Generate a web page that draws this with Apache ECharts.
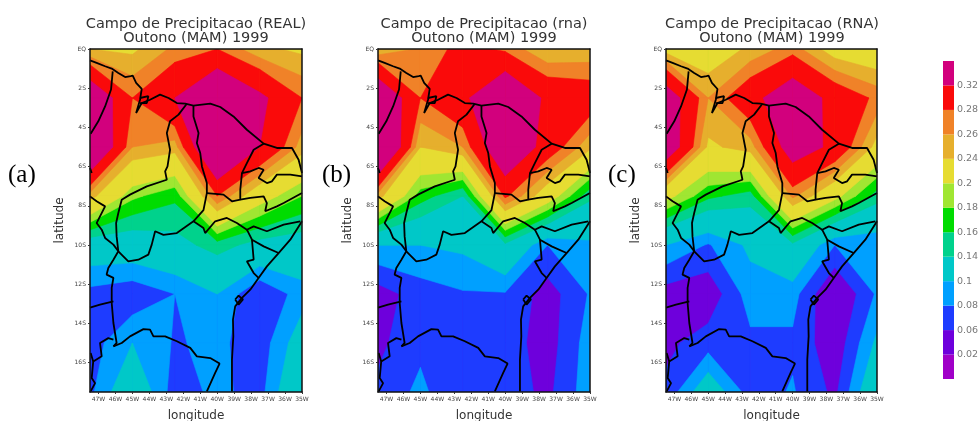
<!DOCTYPE html>
<html><head><meta charset="utf-8">
<style>html,body{margin:0;padding:0;background:#fff}#c{width:978px;height:421px}</style>
<script src="https://cdn.jsdelivr.net/npm/echarts@6/dist/echarts.min.js"></script>
</head><body><div id="c"></div>
<script>
// grid nodes of the precipitation field
const lons = [-47.5,-45,-42.5,-40,-37.5,-35];
const lats = [0,-2.5,-5,-7.5,-10,-12.5,-15,-17.5];
const fieldReal = [
 [.24,.235,.265,.28,.245,.235],
 [.365,.28,.32,.38,.33,.28],
 [.39,.26,.25,.40,.32,.25],
 [.25,.185,.165,.28,.215,.18],
 [.12,.12,.13,.15,.13,.125],
 [.073,.065,.08,.1,.06,.09],
 [.07,.1,.078,.085,.068,.115],
 [.075,.125,.07,.085,.072,.135]];
const fieldRnaLower = [
 [.245,.262,.29,.275,.24,.245],
 [.37,.28,.31,.373,.31,.30],
 [.41,.24,.26,.37,.30,.245],
 [.25,.17,.14,.285,.22,.145],
 [.10,.10,.105,.135,.08,.095],
 [.05,.07,.078,.078,.05,.082],
 [.055,.075,.068,.07,.05,.09],
 [.065,.085,.06,.07,.055,.092]];
const fieldRnaUpper = [
 [.23,.22,.245,.27,.225,.215],
 [.35,.26,.305,.354,.305,.274],
 [.36,.235,.25,.345,.31,.23],
 [.21,.165,.15,.265,.21,.15],
 [.10,.078,.105,.135,.08,.082],
 [.05,.045,.09,.088,.036,.083],
 [.055,.07,.075,.076,.045,.105],
 [.065,.12,.07,.082,.055,.13]];
// contour levels and colours
const levels = [.02,.06,.08,.1,.14,.16,.18,.2,.24,.26,.28,.32];
const barLabels = ['0.02','0.06','0.08','0.1','0.14','0.16','0.18','0.2','0.24','0.26','0.28','0.32'];
const bandColors = ['#a000c8','#6e00dc','#1e3cff','#00a0ff','#00c8c8','#00d28c','#00dc00','#a0e632','#e6dc32','#e6af2d','#f08228','#fa0a0a','#d2007d'];
// map outlines, lon/lat
const borders = [
 [[-47.5,-.58],[-47.11,-.71],[-46.61,-.88],[-46.22,-1.0],[-45.83,-1.22],[-45.43,-1.43],[-45.1,-1.38],[-44.98,-1.36],[-44.78,-1.73],[-44.45,-2.04],[-44.55,-2.59],[-44.78,-3.27],[-44.45,-2.76],[-43.96,-2.59],[-43.37,-2.33],[-42.87,-2.5],[-42.38,-2.76],[-41.89,-2.79],[-41.40,-2.89],[-40.41,-2.79],[-39.82,-2.96],[-39.04,-3.44],[-38.25,-4.12],[-37.26,-4.83],[-36.48,-5.05],[-35.59,-5.05],[-35.2,-5.65],[-35.0,-6.33]],
 [[-35,-8.79],[-35.69,-9.73],[-36.38,-10.41],[-37.07,-11.09],[-37.56,-11.68],[-38.05,-12.28],[-38.54,-12.70],[-38.94,-13.13],[-39.07,-13.81],[-39.05,-14.66],[-39.13,-15.85],[-39.13,-17.47]],
 [[-46.16,-1.14],[-46.26,-2.07],[-46.61,-2.93],[-47.01,-3.69],[-47.46,-4.32]],
 [[-41.79,-2.79],[-42.28,-3.35],[-42.78,-3.69],[-42.97,-4.29],[-42.78,-5.14],[-42.93,-5.99],[-43.07,-6.24],[-42.97,-6.67],[-44.15,-7.01],[-45.14,-7.43],[-45.63,-7.69],[-45.83,-8.37],[-45.96,-8.88],[-45.93,-9.56],[-45.83,-10.32]],
 [[-41.4,-2.89],[-41.4,-3.44],[-41.1,-4.29],[-41.2,-4.8],[-41.0,-5.31],[-40.9,-5.99],[-40.61,-6.84],[-40.61,-7.35],[-40.81,-8.22],[-41.4,-8.79]],
 [[-37.26,-4.83],[-37.85,-5.14],[-38.25,-5.82],[-38.54,-6.33],[-38.64,-7.18],[-38.64,-7.69],[-39.13,-7.77],[-39.63,-7.43],[-40.61,-7.35]],
 [[-38.54,-6.33],[-38.05,-6.24],[-37.56,-6.07],[-37.26,-6.16],[-37.56,-6.58],[-37.07,-6.84],[-36.77,-6.75],[-36.48,-6.41],[-35.69,-6.41],[-35,-6.5]],
 [[-38.64,-7.69],[-38.05,-7.6],[-37.26,-7.52],[-37.07,-7.86],[-37.17,-8.28],[-36.48,-8.03],[-36.08,-7.86],[-35,-7.35]],
 [[-47.5,-7.52],[-47.11,-7.77],[-46.61,-8.03],[-46.91,-8.54],[-47.11,-8.88],[-46.81,-9.22],[-46.61,-9.64],[-46.12,-9.98],[-45.83,-10.32],[-46.12,-10.75],[-46.42,-11.17],[-46.52,-11.51],[-46.12,-11.68],[-46.22,-12.19],[-46.22,-12.96],[-46.12,-13.98],[-45.93,-15.0],[-46.12,-15.17]],
 [[-45.83,-10.32],[-45.24,-10.83],[-44.65,-10.75],[-44.06,-10.49],[-43.86,-9.98],[-43.66,-9.30],[-43.17,-9.48],[-42.38,-9.39],[-41.4,-8.79],[-40.81,-9.13],[-40.71,-9.39],[-40.12,-8.79],[-39.43,-8.62],[-38.84,-8.88],[-38.25,-9.22],[-37.85,-9.05],[-37.07,-9.30],[-36.08,-8.96],[-35.1,-8.79]],
 [[-38.25,-9.22],[-37.95,-9.73],[-37.26,-10.07],[-36.38,-10.41]],
 [[-37.95,-9.73],[-37.85,-10.75],[-38.25,-10.83],[-37.85,-11.43],[-37.56,-11.68]],
 [[-47.5,-13.2],[-46.91,-13.04],[-46.12,-12.87]],
 [[-46.12,-15.17],[-45.63,-15.0],[-45.14,-14.66],[-44.35,-14.29],[-43.96,-14.32],[-43.76,-14.66],[-43.07,-14.66],[-42.38,-14.91],[-41.59,-15.25],[-41.2,-15.68],[-40.41,-15.77],[-39.86,-16.05],[-40.12,-16.53],[-40.61,-17.47]],
 [[-46.12,-14.83],[-46.42,-14.75],[-46.91,-15.0],[-46.81,-15.68],[-47.31,-15.94],[-47.46,-15.51]],
 [[-47.31,-15.94],[-47.4,-16.79],[-47.2,-17.05],[-47.46,-17.47]],
 [[-38.94,-12.78],[-38.74,-12.58],[-38.48,-12.78],[-38.74,-13.04],[-38.94,-12.78]],
 [[-44.55,-2.5],[-44.06,-2.41],[-44.15,-2.76],[-44.55,-2.76]],
 [[-47.5,-6.07],[-47.4,-6.33]]
];
const lonTicks = [-47,-46,-45,-44,-43,-42,-41,-40,-39,-38,-37,-36,-35];
const latTicks = [0,-2,-4,-6,-8,-10,-12,-14,-16];
const titles = ['Campo de Precipitacao (REAL)\nOutono (MAM) 1999','Campo de Precipitacao (rna)\nOutono (MAM) 1999','Campo de Precipitacao (RNA)\nOutono (MAM) 1999'];
const tags = ['(a)','(b)','(c)'];
const fields = [fieldReal, fieldRnaLower, fieldRnaUpper];
const panelLeft = [90,378,666], panelWidth = [212,212,211], titleX = [196,484,772], tagX = [8,322,608];

function clipAbove(poly, L){
  const out = [];
  for (let i=0;i<poly.length;i++){
    const a = poly[i], b = poly[(i+1)%poly.length];
    const ia = a[2]>=L, ib = b[2]>=L;
    if (ia) out.push(a);
    if (ia!==ib){
      const t = (L-a[2])/(b[2]-a[2]);
      out.push([a[0]+(b[0]-a[0])*t, a[1]+(b[1]-a[1])*t, L]);
    }
  }
  return out;
}
// one data item per colour band, lowest first, so higher bands paint over lower ones
function contourRender(field){
  return function(params, api){
    const k = api.value(2);
    const c = bandColors[k+1];
    const children = [];
    for (let j=0;j<lats.length-1;j++) for (let i=0;i<lons.length-1;i++){
      const quad = [[lons[i],lats[j],field[j][i]],[lons[i+1],lats[j],field[j][i+1]],
                    [lons[i+1],lats[j+1],field[j+1][i+1]],[lons[i],lats[j+1],field[j+1][i]]];
      const p = k<0 ? quad : clipAbove(quad, levels[k]);
      if (p.length<3) continue;
      children.push({type:'polygon',shape:{points:p.map(q=>api.coord([q[0],q[1]]))},
        style:{fill:c,stroke:c,lineWidth:.6},silent:true});
    }
    return {type:'group',children};
  };
}
const bandItems = bandColors.map((c,n)=>[lons[0],lats[0],n-1]);

const grid=[],xAxis=[],yAxis=[],series=[],title=[];
const frame={show:true,onZero:false,lineStyle:{color:'#111',width:1.5}};
fields.forEach((field,p)=>{
  grid.push({left:panelLeft[p],top:49,width:panelWidth[p],height:343,outerBoundsMode:'none'});
  const lx={type:'value',gridIndex:p,min:-47.5,max:-35,z:10,splitLine:{show:false}};
  const ly={type:'value',gridIndex:p,min:-17.5,max:0,z:10,splitLine:{show:false}};
  xAxis.push(Object.assign({},lx,{position:'bottom',axisLine:frame,name:'longitude',nameLocation:'middle',nameGap:18,
    nameTextStyle:{fontFamily:'DejaVu Sans',fontSize:12,color:'#333'},
    axisTick:{show:true,length:2,customValues:lonTicks,lineStyle:{color:'#333'}},
    axisLabel:{customValues:lonTicks,margin:4,fontFamily:'DejaVu Sans',fontSize:6,color:'#444',hideOverlap:false,formatter:v=>Math.abs(v)+'W'}}));
  xAxis.push(Object.assign({},lx,{position:'top',axisLine:frame,axisTick:{show:false},axisLabel:{show:false}}));
  yAxis.push(Object.assign({},ly,{position:'left',axisLine:frame,name:'latitude',nameLocation:'middle',nameGap:24,
    nameTextStyle:{fontFamily:'DejaVu Sans',fontSize:12,color:'#333'},
    axisTick:{show:true,length:2,customValues:latTicks,lineStyle:{color:'#333'}},
    axisLabel:{customValues:latTicks,margin:4,fontFamily:'DejaVu Sans',fontSize:6,color:'#444',hideOverlap:false,formatter:v=>v===0?'EQ':Math.abs(v)+'S'}}));
  yAxis.push(Object.assign({},ly,{position:'right',axisLine:frame,axisTick:{show:false},axisLabel:{show:false}}));
  series.push({type:'custom',xAxisIndex:2*p,yAxisIndex:2*p,z:2,silent:true,clip:true,
    data:bandItems,encode:{x:0,y:1},renderItem:contourRender(field)});
  borders.forEach(b=>series.push({type:'line',xAxisIndex:2*p,yAxisIndex:2*p,z:3,silent:true,clip:true,
    data:b,showSymbol:false,symbol:'none',lineStyle:{color:'#000',width:1.8}}));
  title.push({text:titles[p],left:titleX[p],top:17,padding:0,textAlign:'center',
    textStyle:{fontFamily:'DejaVu Sans',fontSize:14.5,fontWeight:'normal',color:'#333',lineHeight:14}});
  title.push({text:tags[p],left:tagX[p],top:163,padding:0,
    textStyle:{fontFamily:'Liberation Serif',fontSize:25,fontWeight:'normal',color:'#000'}});
});
// colour bar
grid.push({left:943,top:61,width:11,height:318,outerBoundsMode:'none'});
xAxis.push({type:'value',gridIndex:3,min:0,max:1,show:false});
xAxis.push({type:'value',gridIndex:3,min:0,max:1,show:false});
yAxis.push({type:'value',gridIndex:3,min:0,max:13,interval:1,position:'right',splitLine:{show:false},axisLine:{show:false},axisTick:{show:false},
  axisLabel:{margin:3,fontFamily:'DejaVu Sans',fontSize:9.5,color:'#777',formatter:v=>barLabels[v-1]||''}});
yAxis.push({type:'value',gridIndex:3,min:0,max:13,show:false});
series.push({type:'custom',xAxisIndex:6,yAxisIndex:6,silent:true,data:bandColors.map((c,i)=>[0,i]),encode:{x:0,y:1},
  renderItem:(params,api)=>{
    const i=api.value(1), a=api.coord([0,i]), b=api.coord([1,i+1]);
    return {type:'rect',shape:{x:a[0],y:b[1],width:b[0]-a[0],height:a[1]-b[1]},style:{fill:bandColors[i]}};
  }});
const chart=echarts.init(document.getElementById('c'),null,{renderer:'canvas'});
chart.setOption({animation:false,backgroundColor:'#fff',title,grid,xAxis,yAxis,series});
</script></body></html>
